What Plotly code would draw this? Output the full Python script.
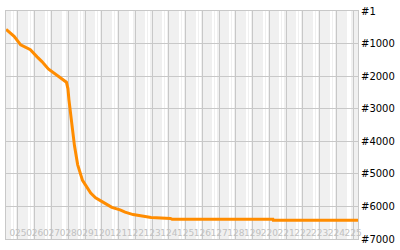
import plotly.graph_objects as go

days = [4.29, 4.77, 5.16, 5.45, 5.74, 6.14, 6.43, 6.81, 7.20, 7.59, 7.89, 7.98, 8.04, 8.12,
        8.27, 8.37, 8.56, 8.85, 9.34, 9.63, 10.12, 10.60, 11.09, 11.39, 11.87, 12.35, 12.94,
        14.10, 14.20, 20.21, 20.23, 25.29]
ranks = [563, 779, 1041, 1117, 1187, 1409, 1555, 1779, 1916, 2071, 2188, 2383, 2721, 3063,
         3550, 4133, 4716, 5200, 5591, 5737, 5882, 6028, 6104, 6174, 6250, 6291, 6338,
         6367, 6396, 6396, 6425, 6425]

tick_days = list(range(5, 26))
tick_text = ["025", "026", "027", "028", "029", "120", "121", "122", "123", "124", "125",
             "126", "127", "128", "129", "220", "221", "222", "223", "224", "225"]
minor_days = [d + f for d in range(4, 26) for f in (0.66, 0.83)]
rank_ticks = [1, 1000, 2000, 3000, 4000, 5000, 6000, 7000]
rank_text = ["#1", "#1000", "#2000", "#3000", "#4000", "#5000", "#6000", "#7000"]

fig = go.Figure(go.Scatter(x=days, y=ranks, mode="lines",
                           line=dict(color="#ff8c00", width=3), hoverinfo="skip"))

fig.update_layout(
    width=400, height=250,
    margin=dict(l=5, r=35, t=5, b=5),
    paper_bgcolor="white", plot_bgcolor="#f0f0f0",
    showlegend=False,
    font=dict(family="DejaVu Sans", size=10, color="black"),
)
fig.update_xaxes(
    range=[4.286, 25.286], tickvals=tick_days, ticktext=tick_text, tickangle=0,
    ticklabelposition="inside", ticklabeloverflow="allow",
    tickfont=dict(color="#c0c0c0", size=9),
    showgrid=True, gridcolor="#c8c8c8", gridwidth=1,
    minor=dict(tickmode="array", tickvals=minor_days, showgrid=True,
               gridcolor="#ffffff", gridwidth=2),
    showline=True, linecolor="#c8c8c8", linewidth=1, mirror=True,
    zeroline=False, ticks="",
)
fig.update_yaxes(
    range=[7000, 1], tickvals=rank_ticks, ticktext=rank_text, side="right",
    ticklabeloverflow="allow",
    showgrid=True, gridcolor="#c8c8c8", gridwidth=1,
    showline=True, linecolor="#c8c8c8", linewidth=1, mirror=True,
    zeroline=False, ticks="", tickfont=dict(size=10, color="black"),
)
fig.write_html("out.html")
